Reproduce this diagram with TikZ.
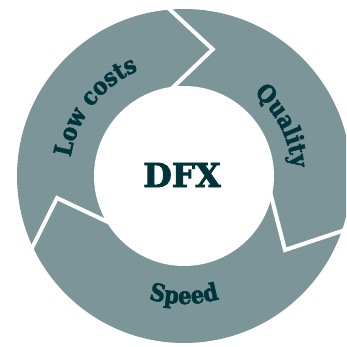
\documentclass[tikz,border=0pt]{standalone}
\usepackage{fontspec}
\setmainfont{DejaVu Serif}
\newfontfamily\heavy{DejaVu Serif Bold}[FakeBold=2.6]
\newfontfamily\heavylab{DejaVu Serif Bold}[FakeBold=2.2, FakeStretch=0.88]
\usetikzlibrary{decorations.text}
\definecolor{ring}{RGB}{123,149,153}
\definecolor{ink}{RGB}{0,52,58}
\begin{document}
\begin{tikzpicture}[
  gap/.style={white, line width=4pt, line join=miter},
  arclabel/.style={decorate, decoration={text along path, text align=center, text color=ink}},
]
\useasboundingbox (0,0) rectangle (346pt,347pt);
\clip (0,0) rectangle (346pt,347pt);
\coordinate (c) at (184pt,171pt);
\fill[ring] (c) circle[radius=167pt];
% boundaries between the three segments
\coordinate (t1) at (165pt,342pt);
\coordinate (t2) at (212.7pt,297.7pt);
\coordinate (t3) at (165pt,252pt);
\coordinate (r1) at (266pt,171pt);
\coordinate (r2) at (285pt,97pt);
\coordinate (r3) at (360pt,122pt);
\coordinate (l1) at (25pt,85pt);
\coordinate (l2) at (57pt,149pt);
\coordinate (l3) at (125pt,117pt);
\draw[gap] (t1) -- (t2) -- (t3);
\draw[gap] (r1) -- (r2) -- (r3);
\draw[gap] (l1) -- (l2) -- (l3);
\fill[white] (c) circle[radius=90pt];
\node[font=\heavy\fontsize{33}{33}\selectfont, text=ink] (dfx) at (182pt,172pt) {DFX};
\begin{scope}[shift={(184pt,171pt)}]
\path[arclabel, decoration={text={|\heavylab\fontsize{24}{24}\selectfont|Low costs}}]
  (180:115pt) arc[start angle=180, end angle=104, radius=115pt];
\path[arclabel, decoration={text={|\heavylab\fontsize{24}{24}\selectfont|Quality}}]
  (62:108pt) arc[start angle=62, end angle=-8, radius=108pt];
\path[arclabel, decoration={text={|\heavylab\fontsize{24}{24}\selectfont|Speed}}]
  (232:128pt) arc[start angle=232, end angle=308, radius=128pt];
\end{scope}
\end{tikzpicture}
\end{document}
